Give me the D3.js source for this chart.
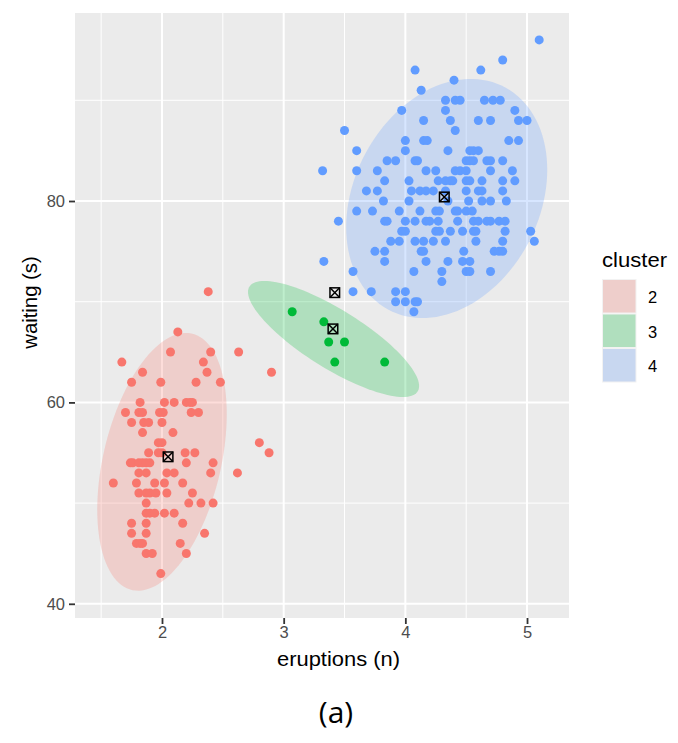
<!DOCTYPE html>
<html>
<head>
<meta charset="utf-8">
<script src="https://cdnjs.cloudflare.com/ajax/libs/d3/7.8.5/d3.min.js"></script>
<style>
  html, body { margin: 0; padding: 0; background: #fff; }
  svg { display: block; font-family: "Liberation Sans", Arial, sans-serif; }
</style>
</head>
<body>
<svg id="chart" width="678" height="743"></svg>
<script>
// eruptions (n), waiting (s)
var cluster2Points = [
  [2.13,67],[2.07,65],[2.40,65],[2.63,65],[1.67,64],[2.34,64],[1.84,63],[2.37,63],[2.90,63],
  [1.75,62],[1.99,62],[2.28,62],[2.48,62],[1.82,60],[2.02,60],[2.10,60],[2.20,60],[2.23,60],[2.25,60],
  [1.70,59],[1.81,59],[1.84,59],[1.98,59],[2.01,59],[2.24,59],[2.30,59],
  [1.75,58],[1.85,58],[1.89,58],[2.00,58],[1.84,57],[2.09,57],[1.97,56],[2.00,56],[2.80,56],
  [1.89,55],[1.97,55],[2.00,55],[2.19,55],[2.27,55],[2.88,55],
  [1.74,54],[1.76,54],[1.81,54],[1.84,54],[1.87,54],[1.90,54],[2.20,54],[2.42,54],
  [1.81,53],[1.87,53],[2.04,53],[2.10,53],[2.40,53],[2.62,53],
  [1.60,52],[1.79,52],[1.94,52],[2.02,52],[2.17,52],
  [1.81,51],[1.87,51],[1.90,51],[1.95,51],[2.04,51],[2.25,51],
  [1.87,50],[2.22,50],[2.32,50],[2.42,50],
  [1.87,49],[1.90,49],[1.94,49],[2.02,49],[2.10,49],[1.75,48],[1.87,48],[2.17,48],
  [1.75,47],[1.87,47],[2.35,47],[1.79,46],[1.82,46],[1.84,46],[2.15,46],
  [1.87,45],[1.92,45],[2.20,45],[1.99,43],[2.38,71]
];
var cluster3Points = [[3.07,69],[3.33,68],[3.37,66],[3.50,66],[3.42,64],[3.83,64]];
var cluster4Points = [
  [5.10,96],[4.80,94],[4.08,93],[4.62,93],[4.40,92],[4.13,91],
  [4.33,90],[4.41,90],[4.45,90],[4.65,90],[4.72,90],[4.78,90],[3.97,89],[4.33,89],[4.90,89],
  [4.15,88],[4.37,88],[4.60,88],[4.70,88],[4.93,88],[5.00,88],[3.50,87],[4.41,87],
  [4.00,86],[4.15,86],[4.18,86],[4.85,86],[4.93,86],[3.60,85],[4.00,85],[4.35,85],[4.53,85],[4.56,85],[4.60,85],
  [3.85,84],[3.92,84],[4.08,84],[4.10,84],[4.50,84],[4.53,84],[4.56,84],[4.67,84],[4.70,84],[4.80,84],
  [3.32,83],[3.60,83],[3.77,83],[4.17,83],[4.25,83],[4.41,83],[4.45,83],[4.50,83],[4.70,83],[4.88,83],
  [3.83,82],[4.03,82],[4.27,82],[4.33,82],[4.37,82],[4.39,82],[4.50,82],[4.53,82],[4.63,82],[4.80,82],[4.90,82],
  [3.68,81],[3.77,81],[4.05,81],[4.12,81],[4.17,81],[4.23,81],[4.33,81],[4.50,81],[4.60,81],[4.63,81],[4.80,81],
  [3.82,80],[4.03,80],[4.35,80],[4.52,80],[4.63,80],[4.70,80],[4.83,80],
  [3.60,79],[3.73,79],[3.95,79],[4.12,79],[4.25,79],[4.28,79],[4.41,79],[4.43,79],[4.50,79],[4.55,79],
  [3.45,78],[3.83,78],[3.85,78],[4.00,78],[4.08,78],[4.17,78],[4.20,78],[4.27,78],[4.43,78],[4.56,78],[4.60,78],[4.67,78],[4.70,78],[4.77,78],[4.82,78],
  [3.97,77],[4.00,77],[4.25,77],[4.28,77],[4.37,77],[4.47,77],[4.56,77],[4.58,77],[4.82,77],[5.03,77],
  [3.88,76],[3.95,76],[4.08,76],[4.15,76],[4.23,76],[4.33,76],[4.58,76],[4.80,76],[5.06,76],
  [3.75,75],[3.83,75],[4.13,75],[4.15,75],[4.48,75],[4.73,75],[4.77,75],[4.80,75],
  [3.33,74],[3.83,74],[4.17,74],[4.35,74],[4.47,74],[4.53,74],
  [3.57,73],[4.07,73],[4.30,73],[4.50,73],[4.53,73],[4.70,73],[4.30,72],
  [3.57,71],[3.72,71],[3.92,71],[4.00,71],[3.92,70],[4.00,70],[4.08,70],[4.10,70],[4.07,69]
];
var centers = [[2.05,54.6],[3.42,70.9],[3.405,67.3],[4.32,80.4]];

var clusters = ["2", "3", "4"];
var clusterColors = ["#F8766D", "#00BA38", "#619CFF"];
var clusterPoints = [cluster2Points, cluster3Points, cluster4Points];
// centre x, centre y, half extent x, half extent y, correlation
var ellipses = [
  [2.00, 54.1, 0.532, 12.8, 0.37],
  [3.41, 66.3, 0.703, 5.76, -0.81],
  [4.34, 80.25, 0.826, 11.87, 0.24]
];

var xMajor = [2, 3, 4, 5];
var xMinor = [1.5, 2.5, 3.5, 4.5];
var yMajor = [40, 60, 80];
var yMinor = [50, 70, 90];

var left = 75, right = 569, top_ = 13, bottom = 618;

var x = d3.scaleLinear().domain([1.285, 5.345]).range([left, right]);
var y = d3.scaleLinear().domain([38.59, 98.67]).range([bottom, top_]);

var svg = d3.select("#chart");

svg.append("rect")
  .attr("x", left).attr("y", top_)
  .attr("width", right - left).attr("height", bottom - top_)
  .attr("fill", "#EBEBEB");

// grid
var grid = svg.append("g").attr("stroke", "#fff").attr("fill", "none");
grid.selectAll(".vmin").data(xMinor).enter().append("line")
  .attr("x1", x).attr("x2", x).attr("y1", top_).attr("y2", bottom).attr("stroke-width", 1);
grid.selectAll(".hmin").data(yMinor).enter().append("line")
  .attr("y1", y).attr("y2", y).attr("x1", left).attr("x2", right).attr("stroke-width", 1);
grid.selectAll(".vmaj").data(xMajor).enter().append("line")
  .attr("x1", x).attr("x2", x).attr("y1", top_).attr("y2", bottom).attr("stroke-width", 2);
grid.selectAll(".hmaj").data(yMajor).enter().append("line")
  .attr("y1", y).attr("y2", y).attr("x1", left).attr("x2", right).attr("stroke-width", 2);

// ellipses, walked round in data units
var angles = d3.range(0, 361, 3).map(function (d) { return d * Math.PI / 180; });
var ellipseLine = d3.line().x(function (d) { return x(d[0]); }).y(function (d) { return y(d[1]); });

svg.selectAll(".ellipse").data(ellipses).enter().append("path")
  .attr("class", "ellipse")
  .attr("fill", function (d, i) { return clusterColors[i]; })
  .attr("fill-opacity", 0.25)
  .attr("d", function (e) {
    var delta = Math.acos(e[4]);
    return ellipseLine(angles.map(function (t) {
      return [e[0] + e[2] * Math.cos(t), e[1] + e[3] * Math.cos(t - delta)];
    })) + "Z";
  });

// points
clusterPoints.forEach(function (points, i) {
  svg.append("g").selectAll("circle").data(points).enter().append("circle")
    .attr("cx", function (d) { return x(d[0]); })
    .attr("cy", function (d) { return y(d[1]); })
    .attr("r", 4.5)
    .attr("fill", clusterColors[i]);
});

// centre markers: square with a cross
var marker = svg.append("g").selectAll("g").data(centers).enter().append("g")
  .attr("transform", function (d) { return "translate(" + x(d[0]) + "," + y(d[1]) + ")"; })
  .attr("fill", "none").attr("stroke", "#000").attr("stroke-width", 1.5);
marker.append("rect").attr("x", -4.8).attr("y", -4.8).attr("width", 9.6).attr("height", 9.6);
marker.append("path").attr("d", "M-4.8,-4.8L4.8,4.8M-4.8,4.8L4.8,-4.8");

// axes
var xAxis = svg.append("g").attr("transform", "translate(0," + bottom + ")")
  .call(d3.axisBottom(x).tickValues(xMajor).tickFormat(d3.format("d")).tickSize(6).tickPadding(2));
var yAxis = svg.append("g").attr("transform", "translate(" + left + ",0)")
  .call(d3.axisLeft(y).tickValues(yMajor).tickFormat(d3.format("d")).tickSize(6).tickPadding(4));
[xAxis, yAxis].forEach(function (a) {
  a.select(".domain").remove();
  a.selectAll("line").attr("stroke", "#333").attr("stroke-width", 1.8);
  a.selectAll("text").attr("fill", "#4D4D4D").style("font-size", "16.5px")
    .style("font-family", "'Liberation Sans', Arial, sans-serif");
});

svg.append("text").attr("x", 338.5).attr("y", 666).attr("text-anchor", "middle")
  .attr("textLength", 123).attr("lengthAdjust", "spacingAndGlyphs")
  .style("font-size", "20px").text("eruptions (n)");
svg.append("text").attr("transform", "translate(37,302.5) rotate(-90)").attr("text-anchor", "middle")
  .style("font-size", "20.3px").text("waiting (s)");

// legend
svg.append("text").attr("x", 602).attr("y", 267)
  .attr("textLength", 65).attr("lengthAdjust", "spacingAndGlyphs")
  .style("font-size", "20px").text("cluster");
var key = svg.append("g").selectAll("g").data(clusters).enter().append("g")
  .attr("transform", function (d, i) { return "translate(602," + (279 + i * 34.5) + ")"; });
key.append("rect").attr("width", 34.5).attr("height", 34.5).attr("fill", "#F2F2F2");
key.append("rect").attr("x", 1).attr("y", 1).attr("width", 32.5).attr("height", 32.5)
  .attr("fill", "#EBEBEB");
key.append("rect").attr("x", 1).attr("y", 1).attr("width", 32.5).attr("height", 32.5)
  .attr("fill", function (d, i) { return clusterColors[i]; })
  .attr("fill-opacity", 0.25);
key.append("text").attr("x", 46).attr("y", 24).style("font-size", "16.5px").text(function (d) { return d; });

svg.append("text").attr("x", 336).attr("y", 723).attr("text-anchor", "middle")
  .style("font-family", "'Open Sans', sans-serif").style("font-size", "30px").text("(a)");
</script>
</body>
</html>
